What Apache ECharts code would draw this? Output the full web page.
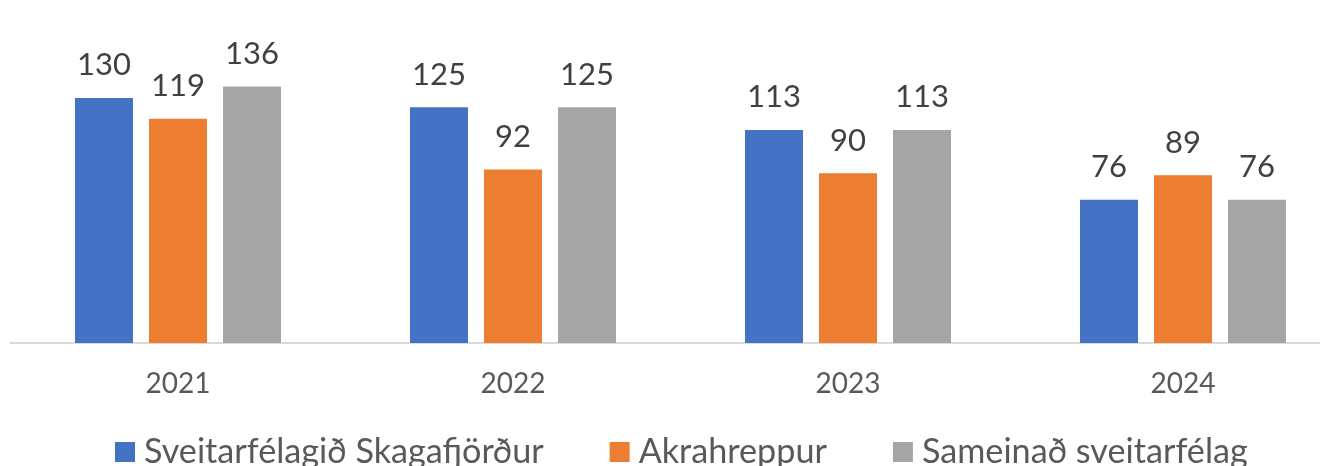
<!DOCTYPE html>
<html>
<head>
<meta charset="utf-8">
<script src="https://cdn.jsdelivr.net/npm/echarts@6/dist/echarts.min.js"></script>
<style>
  html, body { margin: 0; padding: 0; background: #fff; }
  #chart { width: 1320px; height: 466px; }
</style>
</head>
<body>
<div id="chart"></div>
<script>
// gögn lesin af myndinni
const years = ['2021', '2022', '2023', '2024'];
const skagafjordur = [130, 125, 113, 76];
const akrahreppur = [119, 92, 90, 89];
const sameinad = [136, 125, 113, 76];
const seriesNames = ['Sveitarfélagið Skagafjörður', 'Akrahreppur', 'Sameinað sveitarfélag'];
const colors = ['#4472C4', '#ED7D31', '#A5A5A5'];

const FONT = 'Lato, "Open Sans", sans-serif';

const chart = echarts.init(document.getElementById('chart'));

const makeSeries = (name, data, color) => ({
  name,
  type: 'bar',
  data,
  barWidth: 58,
  barGap: '27.6%',
  itemStyle: { color },
  label: {
    show: true,
    position: 'top',
    distance: 17,
    color: '#404040',
    fontFamily: FONT,
    fontSize: 31,
    lineHeight: 31
  }
});

chart.setOption({
  animation: false,
  textStyle: { fontFamily: FONT },
  // plotsvæðið nær út fyrir hægri brún eins og í frummyndinni
  grid: { left: 10.5, width: 1340, top: 22.5, bottom: 123, outerBoundsMode: 'none' },
  legend: {
    left: 110,
    top: 430,
    itemWidth: 20,
    itemHeight: 20,
    itemGap: 66,
    icon: 'rect',
    textStyle: { color: '#595959', fontSize: 34.2, lineHeight: 34, padding: [0, 0, 0, 4], fontFamily: FONT },
    data: seriesNames
  },
  xAxis: {
    type: 'category',
    data: years,
    axisLine: { show: true, lineStyle: { color: '#D9D9D9', width: 2 } },
    axisTick: { show: false },
    axisLabel: { color: '#595959', fontSize: 28, lineHeight: 28, margin: 27, fontFamily: FONT }
  },
  yAxis: {
    type: 'value',
    min: 0,
    max: 170,
    show: false,
    splitLine: { show: false }
  },
  series: [
    makeSeries(seriesNames[0], skagafjordur, colors[0]),
    makeSeries(seriesNames[1], akrahreppur, colors[1]),
    makeSeries(seriesNames[2], sameinad, colors[2])
  ]
});
</script>
</body>
</html>
